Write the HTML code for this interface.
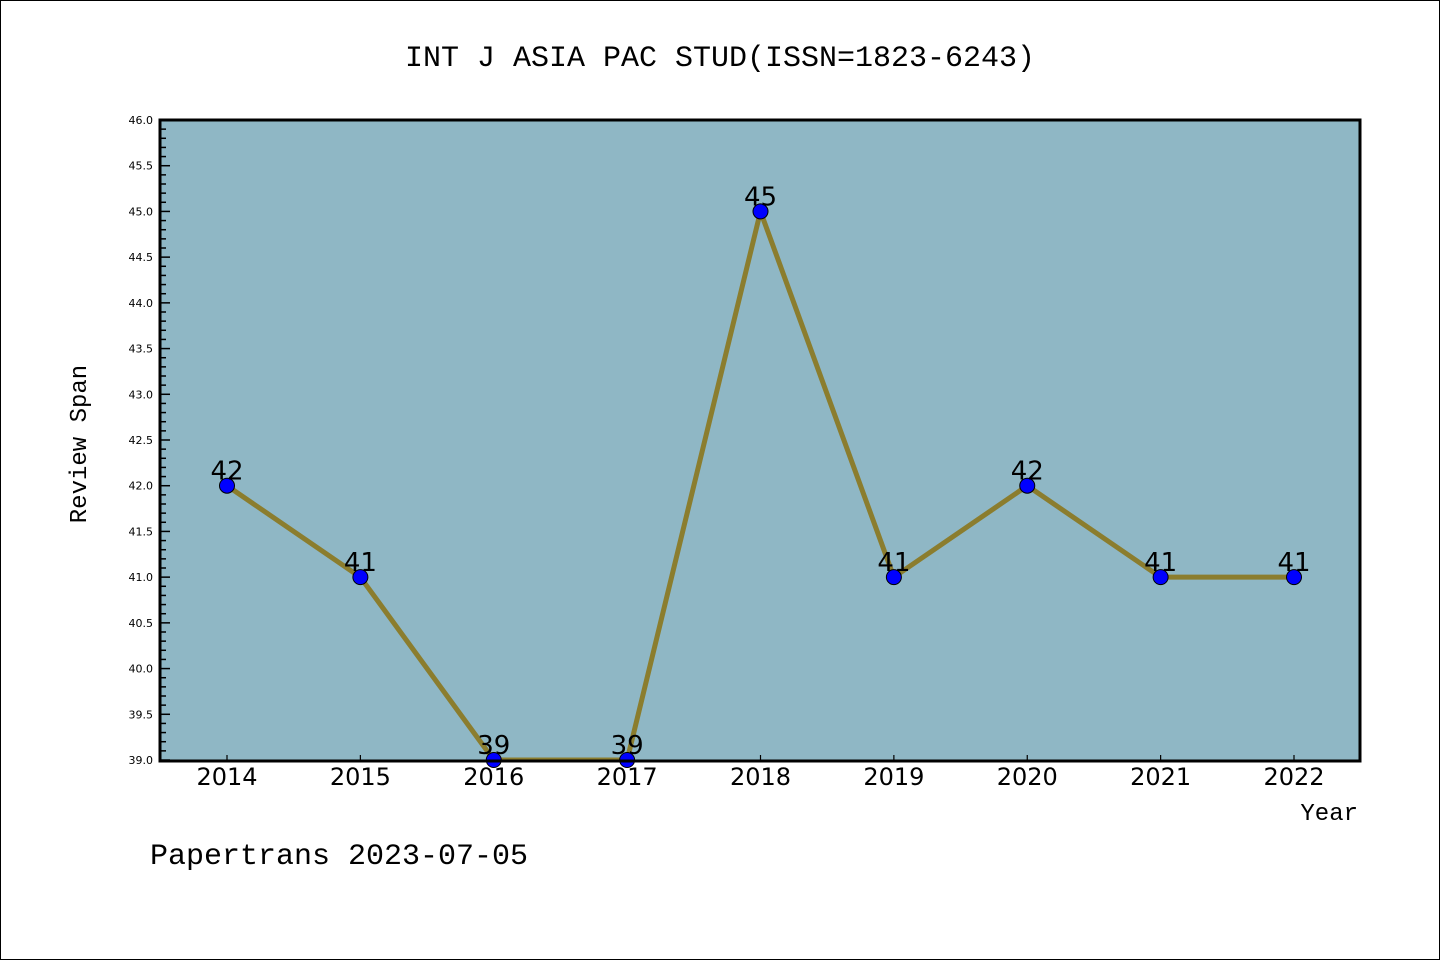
<!DOCTYPE html>
<html><head><meta charset="utf-8"><style>
body{margin:0;background:#fff;}
svg{display:block;font-family:"Liberation Mono","DejaVu Sans Mono",monospace;}
</style></head><body>
<svg id="chart" width="1440" height="960">
<rect x="0.5" y="0.5" width="1439" height="959" fill="#fff" stroke="#000"/>
<text x="720" y="66" text-anchor="middle" font-size="30">INT J ASIA PAC STUD(ISSN=1823-6243)</text>
<rect x="160" y="120" width="1200" height="641" fill="#8fb7c5"/>
<g id="yaxis"></g>
<g id="xaxis"></g>
<g id="series"></g>
<rect x="160" y="120" width="1200" height="641" fill="none" stroke="#000" stroke-width="3"/>
<text x="86" y="444" text-anchor="middle" font-size="24" transform="rotate(-90 86 444)">Review Span</text>
<text x="1358" y="820" text-anchor="end" font-size="24">Year</text>
<text x="150" y="864" font-size="30">Papertrans 2023-07-05</text>
</svg>
<script>
const years=[2014,2015,2016,2017,2018,2019,2020,2021,2022];
const values=[42,41,39,39,45,41,42,41,41];
const yTicks=["39.0","39.5","40.0","40.5","41.0","41.5","42.0","42.5","43.0","43.5","44.0","44.5","45.0","45.5","46.0"];
const NS="http://www.w3.org/2000/svg";
const yMin=39,yMax=46,plotTop=120,plotBot=760;
const y=v=>plotBot-(v-yMin)/(yMax-yMin)*(plotBot-plotTop);
const x=i=>227+i*(1294-227)/(years.length-1);
function mk(t,a,p){const e=document.createElementNS(NS,t);for(const k in a)e.setAttribute(k,a[k]);p.appendChild(e);return e;}
const ya=document.getElementById('yaxis');
for(let v=yMin*10;v<=yMax*10;v++){const major=v%5===0;const l=mk('line',{x1:160,x2:160+(major?10:6),y1:y(v/10),y2:y(v/10),stroke:'#000','stroke-width':1.5},ya);

}
yTicks.forEach(s=>{const t=mk('text',{x:153,y:y(parseFloat(s))+4,'text-anchor':'end','font-size':11,'font-family':'DejaVu Sans,sans-serif'},ya);t.textContent=s;

});
const xa=document.getElementById('xaxis');
years.forEach((yr,i)=>{const l=mk('line',{x1:x(i),x2:x(i),y1:761,y2:755,stroke:'#000','stroke-width':1.2},xa);


const t=mk('text',{x:x(i),y:785,'text-anchor':'middle','font-size':24,'font-family':'DejaVu Sans,sans-serif'},xa);t.textContent=yr;

});
const s=document.getElementById('series');
const pl=mk('polyline',{points:values.map((v,i)=>x(i)+','+y(v)).join(' '),fill:'none',stroke:'#8b7d2e','stroke-width':5},s);


values.forEach((v,i)=>{const c=mk('circle',{cx:x(i),cy:y(v),r:7.5,fill:'#0000ff',stroke:'#000','stroke-width':1},s);


const t=mk('text',{x:x(i),y:y(v)-6,'text-anchor':'middle','font-size':26,'font-family':'DejaVu Sans,sans-serif'},s);t.textContent=v;

});
</script>
</body></html>
